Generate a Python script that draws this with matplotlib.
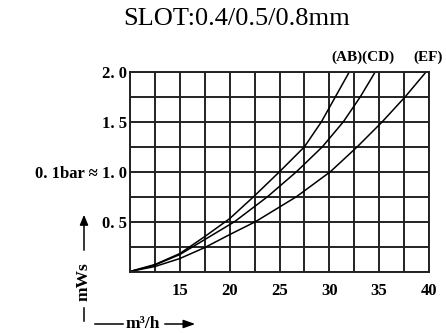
#!/usr/bin/python3

# pressure loss vs flow chart for the three slot sizes

import matplotlib
matplotlib.use('Agg')
import matplotlib.pyplot as plt

# flow (m3/h) and pressure loss (mWs)
ab_flow=[10,12.5,15,17.5,20,22.4,25,27.5,29.2,30.6,32.0]
ab_loss=[0,0.07,0.18,0.35,0.53,0.75,1.0,1.25,1.5,1.75,2.0]
cd_flow=[10,12.5,15,17.5,20.5,23.8,26.7,29.3,31.4,33.1,34.6]
cd_loss=[0,0.065,0.17,0.32,0.5,0.75,1.0,1.25,1.5,1.75,2.0]
ef_flow=[10,12.5,15,17.5,20,22.6,26.7,30.1,32.8,35.3,37.6,39.7]
ef_loss=[0,0.05,0.13,0.24,0.37,0.5,0.75,1.0,1.25,1.5,1.75,2.0]

xticks=[15,20,25,30,35,40]
yticks=[0.5,1.0,1.5,2.0]
ylabels=['0. 5','1. 0','1. 5','2. 0']

serif=['Liberation Serif','DejaVu Serif']

fig=plt.figure(figsize=(4.46,3.33),dpi=100)
ax=fig.add_axes([130/446,1-271.5/333,299/446,199.5/333])

# grid every 2.5 m3/h and 0.25 mWs
for i in range(13):
    ax.axvline(10+2.5*i,color='#222222',lw=1.4,zorder=1)
for i in range(9):
    ax.axhline(0.25*i,color='#222222',lw=1.4,zorder=1)

for fl,ls in ((ab_flow,ab_loss),(cd_flow,cd_loss),(ef_flow,ef_loss)):
    ax.plot(fl,ls,color='black',lw=1.1,zorder=2,clip_on=False,solid_joinstyle='round')

ax.set_xlim(10,40)
ax.set_ylim(0,2.0)
ax.set_xticks(xticks)
ax.set_xticklabels([str(x) for x in xticks],family=serif,fontweight='bold',fontsize=12)
ax.set_yticks(yticks)
ax.set_yticklabels(ylabels,family=serif,fontweight='bold',fontsize=12)
ax.tick_params(axis='x',length=0,pad=8)
ax.tick_params(axis='y',length=0,pad=2)
for s in ax.spines.values():
    s.set_linewidth(1.4)
    s.set_color('#222222')

fig.text(237/446,1-19/333,'SLOT:0.4/0.5/0.8mm',family=serif,fontsize=19,
         ha='center',va='center')

fig.text(363/446,1-57/333,'(AB)(CD)',family=serif,fontweight='bold',fontsize=11,
         ha='center',va='center')
fig.text(428/446,1-57/333,'(EF)',family=serif,fontweight='bold',fontsize=11,
         ha='center',va='center')

fig.text(98/446,1-174/333,'0. 1bar \u2248',family=serif,fontweight='bold',fontsize=12,
         ha='right',va='center')

# y axis unit with arrow
fig.text(84/446,1-282/333,'mWs',family=serif,fontweight='bold',fontsize=12.5,
         rotation=90,ha='center',va='center')
fig.add_artist(plt.Line2D([84/446,84/446],[1-308/333,1-321/333],color='black',lw=1.1))
fig.add_artist(matplotlib.patches.FancyArrowPatch((84/446,1-253/333),(84/446,1-212/333),
               transform=fig.transFigure,arrowstyle='-|>,head_length=6,head_width=2.5',
               color='black',lw=1.1))

# x axis unit with arrow
fig.text(143/446,1-324/333,'m\u00b3/h',family=serif,fontweight='bold',fontsize=12.5,
         ha='center',va='center')
fig.add_artist(plt.Line2D([95/446,123/446],[1-324/333,1-324/333],color='black',lw=1.1))
fig.add_artist(matplotlib.patches.FancyArrowPatch((162/446,1-324/333),(198/446,1-324/333),
               transform=fig.transFigure,arrowstyle='-|>,head_length=7,head_width=2.5',
               color='black',lw=1.1))

plt.savefig('out.png',dpi=100)
